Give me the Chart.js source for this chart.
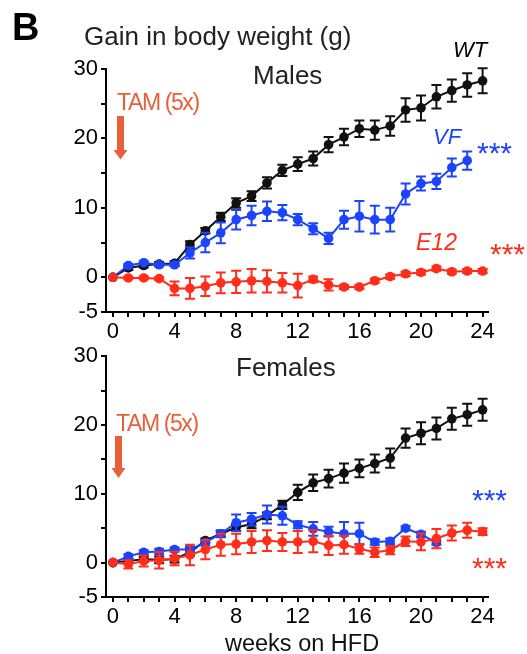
<!DOCTYPE html>
<html><head><meta charset="utf-8">
<script src="https://cdn.jsdelivr.net/npm/chart.js@4"></script>
<style>
html,body{margin:0;padding:0;background:#fff;width:527px;height:654px;overflow:hidden;font-family:"Liberation Sans",Arial,sans-serif;}
#c1{position:absolute;left:0;top:0;width:527px;height:340px;}
#c2{position:absolute;left:0;top:340px;width:527px;height:314px;}
.t{position:absolute;line-height:1;white-space:nowrap;font-family:"Liberation Sans",Arial,sans-serif;}
svg{position:absolute;left:0;top:0;}
</style></head><body>
<canvas id="c1" width="527" height="340"></canvas>
<canvas id="c2" width="527" height="314"></canvas>
<svg width="527" height="654">
  <polygon points="117,116 124,116 124,150 127.5,150 120.5,159.5 113.5,150 117,150" fill="#e8603a"/>
  <polygon points="115,436 122,436 122,468 125.5,468 118.5,478 111.5,468 115,468" fill="#e8603a"/>
</svg>
<script>
// ---- data ----
const weeks = [0,1,2,3,4,5,6,7,8,9,10,11,12,13,14,15,16,17,18,19,20,21,22,23,24];
const xTickLabels = [0,4,8,12,16,20,24];
const yTickLabels = [-5,0,10,20,30];

const maleWT     = [0,1.35,1.7,1.9,2.0,4.7,6.7,8.7,10.7,11.7,13.6,15.4,16.3,17.1,19.1,20.2,21.4,21.2,21.8,24.1,24.4,26.0,26.9,27.7,28.3];
const maleWTerr  = [0,0.3,0.3,0.3,0.3,0.5,0.4,0.6,0.7,0.7,0.8,0.8,1.0,1.0,1.1,1.2,1.2,1.4,1.4,1.7,1.8,1.7,1.6,1.7,1.8];
const maleVF     = [0,1.7,2.1,1.8,1.8,3.5,5.0,6.4,8.3,8.9,9.5,9.3,8.3,7.0,5.6,8.3,8.8,8.3,8.3,12.0,13.5,13.8,15.8,16.8];
const maleVFerr  = [0,0.2,0.2,0.2,0.2,0.8,1.4,1.5,1.4,1.4,1.4,1.1,0.8,0.8,0.8,1.3,2.2,2.0,1.7,1.5,1.0,1.1,1.3,1.3];
const maleE12    = [0,-0.1,-0.1,-0.2,-1.6,-1.6,-1.3,-0.8,-0.65,-0.5,-0.6,-0.8,-1.2,-0.3,-1.1,-1.4,-1.4,-0.5,0.1,0.5,0.7,1.25,0.8,0.9,0.9];
const maleE12err = [0,0.2,0.2,0.2,1.0,1.5,1.4,1.5,1.6,1.7,1.6,1.4,1.7,0.4,0.8,0.3,0.3,0.3,0.3,0.3,0.3,0.3,0.3,0.3,0.3];

const femWT      = [0,0.25,0.5,0.4,0.5,1.5,3.2,4.2,5.1,5.6,6.8,8.4,10.2,11.6,12.2,13.0,13.7,14.4,15.2,18.1,18.8,19.5,20.9,21.5,22.2];
const femWTerr   = [0,0.3,0.4,0.5,0.5,0.5,0.3,0.4,0.5,0.6,0.5,0.6,1.1,1.2,1.3,1.4,1.3,1.3,1.4,1.4,1.6,1.6,1.6,1.6,1.6];
const femVF      = [0,0.9,1.5,1.6,1.9,1.9,2.9,4.2,5.8,6.3,7.0,6.8,5.5,4.9,4.5,4.2,4.2,3.0,3.1,5.0,4.1,2.9];
const femVFerr   = [0,0.3,0.3,0.4,0.3,0.4,0.4,0.5,1.2,0.9,1.3,1.3,0.5,1.0,0.7,1.7,1.6,0.4,0.4,0.3,0.4,0.3];
const femE12     = [0,-0.25,0.25,0.35,0.6,1.1,1.9,2.6,2.7,3.0,3.2,3.0,3.0,3.1,2.5,2.6,2.0,1.5,1.8,3.1,3.0,3.5,4.3,4.7,4.5];
const femE12err  = [0,0.6,0.8,1.2,1.0,1.5,1.4,1.6,1.5,1.6,1.5,1.3,1.6,1.6,1.4,1.3,0.7,0.7,0.6,0.7,1.2,1.4,1.1,1.1,0.5];

const BLACK = '#111111', BLUE = '#1c44ff', RED = '#ff2d1a', ORANGE = '#e8603a';

// ---- helpers ----
const errorBars = {
  id: 'errorBars',
  beforeDatasetDraw(chart, args) {
    const ds = chart.data.datasets[args.index];
    if (!ds.errors) return;
    const ctx = chart.ctx, x = chart.scales.x, y = chart.scales.y;
    ctx.save();
    ctx.strokeStyle = ds.borderColor;
    ctx.lineWidth = 2;
    ds.data.forEach((p, i) => {
      const e = ds.errors[i];
      if (!e) return;
      const px = x.getPixelForValue(p.x);
      const y1 = y.getPixelForValue(p.y + e), y2 = y.getPixelForValue(p.y - e);
      ctx.beginPath();
      ctx.moveTo(px, y1); ctx.lineTo(px, y2);
      ctx.moveTo(px - 5, y1); ctx.lineTo(px + 5, y1);
      ctx.moveTo(px - 5, y2); ctx.lineTo(px + 5, y2);
      ctx.stroke();
    });
    ctx.restore();
  }
};

function series(vals, errs, color) {
  return {
    data: vals.map((v, i) => ({x: weeks[i], y: v})),
    errors: errs,
    borderColor: color, backgroundColor: color,
    pointBackgroundColor: color, pointBorderColor: color,
    borderWidth: 2, pointRadius: 4.8, pointBorderWidth: 0,
    pointHoverRadius: 4.8, tension: 0, clip: false
  };
}

function makeChart(id, H, top, bottom, sets) {
  const tickFont = {family: '"Liberation Sans", Arial, sans-serif', size: 22};
  return new Chart(document.getElementById(id), {
    type: 'line',
    data: {datasets: sets},
    plugins: [errorBars],
    options: {
      responsive: false, animation: false, events: [],
      layout: {padding: {left: 0, right: 39, top: top, bottom: 0}},
      plugins: {legend: {display: false}, tooltip: {enabled: false}},
      scales: {
        x: {
          type: 'linear', min: -0.45, max: 24.35,
          afterBuildTicks: s => { s.ticks = weeks.map(v => ({value: v})); },
          afterFit: s => { s.height = H - bottom; },
          ticks: {autoSkip: false, maxRotation: 0, padding: 2, color: '#000', font: tickFont,
                  callback: v => xTickLabels.includes(v) ? String(v) : ''},
          grid: {drawOnChartArea: false, drawTicks: true, tickLength: 5, color: '#000', lineWidth: 2},
          border: {display: true, color: '#000', width: 2}
        },
        y: {
          type: 'linear', min: -5, max: 30,
          afterBuildTicks: s => { s.ticks = [-5,0,5,10,15,20,25,30].map(v => ({value: v})); },
          afterFit: s => { s.width = 106; },
          ticks: {autoSkip: false, padding: 3, color: '#000', font: tickFont,
                  callback: v => yTickLabels.includes(v) ? String(v) : ''},
          grid: {drawOnChartArea: false, drawTicks: true, tickLength: 5, color: '#000', lineWidth: 2},
          border: {display: true, color: '#000', width: 2}
        }
      }
    }
  });
}

makeChart('c1', 340, 69, 312, [
  series(maleE12, maleE12err, RED),
  series(maleVF, maleVFerr, BLUE),
  series(maleWT, maleWTerr, BLACK)
]);
makeChart('c2', 314, 13, 257, [
  series(femE12, femE12err, RED),
  series(femVF, femVFerr, BLUE),
  series(femWT, femWTerr, BLACK)
]);

// ---- text labels ----
function place(txt, left, baseline, size, color, extra) {
  const d = document.createElement('div');
  d.className = 't';
  d.textContent = txt;
  d.style.left = left + 'px';
  d.style.top = (baseline - 0.8465 * size) + 'px';
  d.style.fontSize = size + 'px';
  d.style.color = color;
  if (extra) Object.assign(d.style, extra);
  document.body.appendChild(d);
}
place('B', 12, 40, 38, '#000', {fontWeight: 'bold'});
place('Gain in body weight (g)', 84, 45, 26, '#222');
place('Males', 253, 84, 26, '#222');
place('Females', 236, 376, 26, '#222');
place('TAM (5x)', 117, 110, 23, ORANGE, {letterSpacing: '-1.4px'});
place('TAM (5x)', 116, 431, 23, ORANGE, {letterSpacing: '-1.4px'});
place('WT', 453, 58, 22, '#000', {fontStyle: 'italic'});
place('VF', 433, 145, 22, BLUE, {fontStyle: 'italic'});
place('E12', 416, 250, 23, RED, {fontStyle: 'italic'});
place('***', 477, 163, 30, BLUE);
place('***', 490, 264, 30, RED);
place('***', 472, 510, 30, BLUE);
place('***', 472, 578, 30, RED);
place('weeks on HFD', 225, 652, 23.5, '#111');
</script>
</body></html>
